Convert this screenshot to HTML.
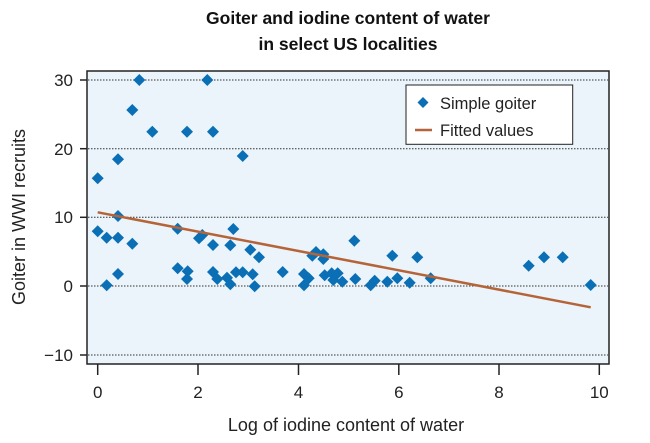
<!DOCTYPE html>
<html><head><meta charset="utf-8"><style>body{margin:0;background:#fff}svg{display:block;font-family:"Liberation Sans",Arial,sans-serif}</style></head><body>
<svg width="650" height="443" viewBox="0 0 650 443">
<text x="348" y="24" text-anchor="middle" font-size="17.5" font-weight="bold" fill="#111">Goiter and iodine content of water</text>
<text x="348" y="50" text-anchor="middle" font-size="17.5" font-weight="bold" fill="#111">in select US localities</text>
<rect x="87" y="71" width="522" height="293" fill="#eaf4fa" stroke="#222" stroke-width="1.5"/>
<g stroke="#333" stroke-width="1" stroke-dasharray="1.5,1.5">
<line x1="88" x2="608" y1="80" y2="80"/><line x1="88" x2="608" y1="148.7" y2="148.7"/><line x1="88" x2="608" y1="217.3" y2="217.3"/><line x1="88" x2="608" y1="286" y2="286"/><line x1="88" x2="608" y1="355" y2="355"/>
</g>
<g stroke="#222" stroke-width="1.5">
<line x1="80" x2="87" y1="80" y2="80"/><line x1="80" x2="87" y1="148.7" y2="148.7"/><line x1="80" x2="87" y1="217.3" y2="217.3"/><line x1="80" x2="87" y1="286" y2="286"/><line x1="80" x2="87" y1="355" y2="355"/>
<line x1="97.7" x2="97.7" y1="364" y2="375"/><line x1="198" x2="198" y1="364" y2="375"/><line x1="298.5" x2="298.5" y1="364" y2="375"/><line x1="398.8" x2="398.8" y1="364" y2="375"/><line x1="499" x2="499" y1="364" y2="375"/><line x1="599.3" x2="599.3" y1="364" y2="375"/>
</g>
<g font-size="17" fill="#222" text-anchor="end">
<text x="73" y="86">30</text><text x="73" y="155">20</text><text x="73" y="223">10</text><text x="73" y="292">0</text><text x="73" y="361">−10</text>
</g>
<g font-size="17" fill="#222" text-anchor="middle">
<text x="97.7" y="398">0</text><text x="198" y="398">2</text><text x="298.5" y="398">4</text><text x="398.8" y="398">6</text><text x="499" y="398">8</text><text x="599.3" y="398">10</text>
</g>
<text x="346" y="431" text-anchor="middle" font-size="18" fill="#222">Log of iodine content of water</text>
<text transform="translate(25,217) rotate(-90)" text-anchor="middle" font-size="18" fill="#222">Goiter in WWI recruits</text>
<g fill="#0a6fb5" id="pts"></g>
<line x1="97.7" y1="212.3" x2="590.7" y2="307.3" stroke="#b5643a" stroke-width="2.5"/>
<rect x="406" y="85" width="166.7" height="59.3" fill="#fff" stroke="#222" stroke-width="1"/>
<path d="M423 97 l5.5 5.5 -5.5 5.5 -5.5 -5.5z" fill="#0a6fb5"/>
<line x1="415" x2="432" y1="130" y2="130" stroke="#b5643a" stroke-width="2.5"/>
<text x="440" y="109" font-size="16.5" fill="#222">Simple goiter</text>
<text x="440" y="136" font-size="16.5" fill="#222">Fitted values</text>
</svg>
<script>
var p=[[97.7,178.3],[139.3,80],[207.3,80],[132.3,110],[152.3,131.7],[187,131.7],[213,131.7],[118,159.3],[242.7,156],[97.7,231.3],[106.7,237.7],[118,237.7],[118,216],[132.3,243.7],[106.7,285.3],[118,274],[177.7,228.7],[177.7,268.3],[187.7,271.3],[187,279],[199,238.3],[202.3,235],[213,245],[213,272],[217.3,279],[227,277.7],[230.3,284.3],[230.3,245.3],[233.3,229],[236,272.3],[242.7,272.3],[252.7,274.3],[254.7,286.3],[250.3,249.7],[259,257.3],[282.7,272],[304,274],[304,285.3],[308.7,278.3],[312.3,255.7],[316,252],[323.3,254.3],[323.3,259],[324.7,275.3],[333.3,280],[331.7,273.3],[337.7,273.3],[342.3,281.7],[354.3,240.7],[355.3,279],[370.7,285.3],[374.7,280.7],[387.3,281.7],[392.3,255.7],[397.3,278.3],[409.7,282.7],[417.3,257.3],[430.7,278.3],[528.7,265.7],[544,257.3],[562.7,257.3],[590.7,285]];
var g=document.getElementById('pts'),s='';
p.forEach(function(q){s+='<path d="M'+q[0]+' '+(q[1]-6)+' l6 6 -6 6 -6 -6z"/>';});
g.innerHTML=s;
</script>
</body></html>
